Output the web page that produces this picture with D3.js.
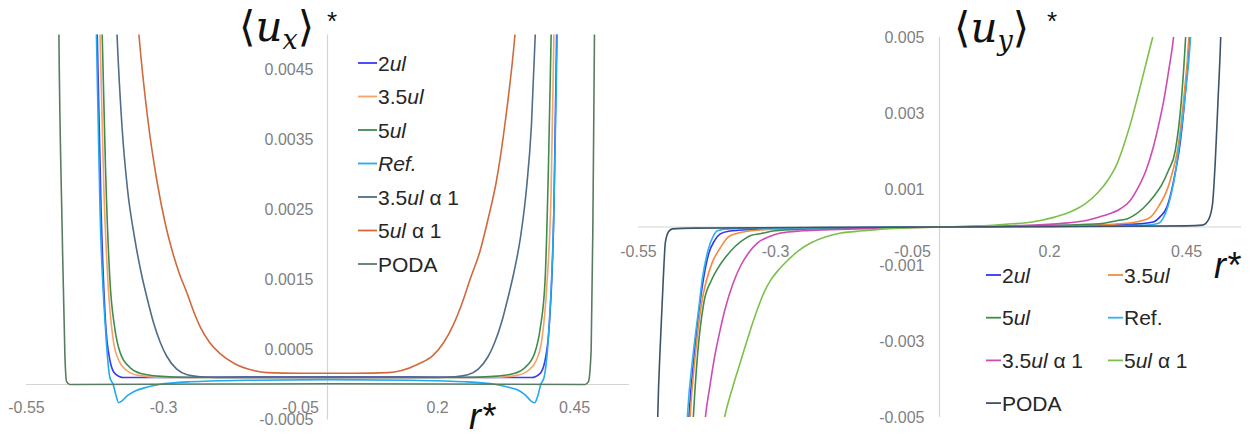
<!DOCTYPE html>
<html lang="en">
<head>
    <meta charset="UTF-8">
    <title>u_x and u_y profiles</title>
    <script src="https://d3js.org/d3.v7.min.js"></script>
    <style>
        body { margin: 0; background: #fff; }
        svg { display: block; }
        text { font-family: "Liberation Sans", Arial, sans-serif; }
    </style>
</head>
<body>
    <script>
        // tick values shared by both panels
        const rTicks = [-0.55, -0.3, -0.05, 0.2, 0.45];
        const uxTicks = [-0.0005, 0.0005, 0.0015, 0.0025, 0.0035, 0.0045];
        const uyTicks = [-0.005, -0.003, -0.001, 0.001, 0.003, 0.005];
        const seriesNames = ["2ul", "3.5ul", "5ul", "Ref.", "3.5ul α 1", "5ul α 1", "PODA"];

        // <u_x>* against r*
        const ux2ul = [[-0.425,0.0068],[-0.420,0.005],[-0.413,0.0025],[-0.405,0.0009],[-0.397,0.00035],[-0.388,0.00016],[-0.372,0.0001],[-0.30,0.0001],[-0.15,0.00011],[0,0.00011],[0.15,0.00011],[0.30,0.0001],[0.372,0.0001],[0.388,0.00016],[0.397,0.00035],[0.405,0.0009],[0.413,0.0025],[0.418,0.005],[0.423,0.0068]];
        const ux35ul = [[-0.42,0.0068],[-0.415,0.005],[-0.408,0.0028],[-0.400,0.0014],[-0.391,0.00064],[-0.380,0.00033],[-0.366,0.0002],[-0.345,0.00013],[-0.30,0.0001],[-0.15,0.0001],[0,0.0001],[0.15,0.0001],[0.30,0.0001],[0.345,0.00013],[0.366,0.0002],[0.380,0.00033],[0.391,0.00064],[0.400,0.0014],[0.408,0.0028],[0.413,0.005],[0.418,0.0068]];
        const ux5ul = [[-0.416,0.0068],[-0.411,0.005],[-0.405,0.0031],[-0.397,0.0015],[-0.388,0.0008],[-0.378,0.00045],[-0.36,0.00024],[-0.342,0.00016],[-0.31,0.00012],[-0.25,0.0001],[-0.15,0.0001],[0,0.0001],[0.15,0.0001],[0.25,0.0001],[0.31,0.00012],[0.342,0.00016],[0.36,0.00024],[0.378,0.00045],[0.388,0.0008],[0.397,0.0015],[0.403,0.0031],[0.408,0.005],[0.413,0.0068]];
        const uxRef = [[-0.426,0.0068],[-0.4215,0.005],[-0.415,0.0025],[-0.405,0.0008],[-0.397,0.0001],[-0.391,0],[-0.386,-0.00015],[-0.381,-0.00026],[-0.376,-0.00024],[-0.365,-0.00016],[-0.35,-0.00009],[-0.33,-0.00004],[-0.307,0],[-0.25,0.00004],[-0.15,0.00006],[0,0.00007],[0.15,0.00006],[0.25,0.00004],[0.307,0],[0.33,-0.00004],[0.35,-0.00009],[0.362,-0.00016],[0.372,-0.00024],[0.378,-0.00026],[0.384,-0.00015],[0.389,0],[0.395,0.0001],[0.404,0.0008],[0.413,0.0025],[0.419,0.005],[0.423,0.0068]];
        const ux35a1 = [[-0.39,0.0062],[-0.384,0.005],[-0.375,0.0037],[-0.365,0.0028],[-0.352,0.0021],[-0.34,0.0016],[-0.328,0.0012],[-0.318,0.0009],[-0.305,0.0006],[-0.293,0.0004],[-0.275,0.00022],[-0.256,0.00014],[-0.23,0.00011],[-0.2,0.0001],[0,0.0001],[0.2,0.0001],[0.23,0.00011],[0.256,0.00014],[0.275,0.00022],[0.293,0.0004],[0.305,0.0006],[0.318,0.0009],[0.328,0.0012],[0.34,0.0016],[0.352,0.0021],[0.363,0.0028],[0.372,0.0037],[0.379,0.005],[0.384,0.0062]];
        const ux5a1 = [[-0.35,0.0056],[-0.344,0.005],[-0.328,0.0038],[-0.311,0.0029],[-0.296,0.0023],[-0.283,0.0019],[-0.27,0.00158],[-0.256,0.0013],[-0.244,0.00104],[-0.232,0.00082],[-0.215,0.0006],[-0.196,0.00044],[-0.17,0.0003],[-0.135,0.0002],[-0.11,0.00017],[-0.05,0.00016],[0,0.00016],[0.05,0.00016],[0.11,0.00017],[0.135,0.0002],[0.165,0.00029],[0.193,0.00042],[0.212,0.0006],[0.23,0.00086],[0.245,0.00115],[0.26,0.0015],[0.278,0.0019],[0.294,0.0024],[0.308,0.0029],[0.325,0.0038],[0.342,0.005],[0.348,0.0056]];
        const uxPoda = [[-0.492,0.0068],[-0.49,0.005],[-0.484,0.0022],[-0.479,0.0004],[-0.476,0.00004],[-0.47,0],[0,0.00001],[0.47,0],[0.476,0.00004],[0.481,0.0005],[0.484,0.0022],[0.487,0.005],[0.489,0.0068]];

        // <u_y>* against r*
        const uy2ul = [[-0.462,-0.0065],[-0.457,-0.005],[-0.447,-0.0033],[-0.437,-0.002],[-0.431,-0.0014],[-0.421,-0.0007],[-0.41,-0.00035],[-0.40,-0.00018],[-0.385,-0.00011],[-0.35,-0.00007],[-0.25,-0.00004],[-0.1,-0.00001],[0,0],[0.1,0.00001],[0.25,0.00004],[0.30,0.00005],[0.37,0.00009],[0.39,0.00013],[0.403,0.00028],[0.415,0.00053],[0.424,0.001],[0.431,0.0015],[0.437,0.002],[0.447,0.0033],[0.456,0.005],[0.461,0.0065]];
        const uy35ul = [[-0.46,-0.0065],[-0.455,-0.005],[-0.445,-0.0033],[-0.434,-0.002],[-0.425,-0.0014],[-0.415,-0.00095],[-0.40,-0.00055],[-0.385,-0.00026],[-0.37,-0.00017],[-0.35,-0.00011],[-0.30,-0.00006],[-0.15,-0.00002],[0,0],[0.15,0.00002],[0.30,0.00006],[0.35,0.00011],[0.37,0.00017],[0.385,0.00026],[0.40,0.00055],[0.415,0.00097],[0.426,0.0015],[0.434,0.002],[0.445,0.0033],[0.455,0.005],[0.46,0.0065]];
        const uy5ul = [[-0.454,-0.0065],[-0.449,-0.005],[-0.441,-0.0033],[-0.43,-0.002],[-0.416,-0.0014],[-0.405,-0.0011],[-0.39,-0.00079],[-0.372,-0.0005],[-0.354,-0.0003],[-0.343,-0.00022],[-0.325,-0.00017],[-0.30,-0.0001],[-0.25,-0.00006],[-0.1,-0.00002],[0,0],[0.1,0.00002],[0.25,0.00006],[0.30,0.0001],[0.325,0.00017],[0.343,0.00022],[0.354,0.0003],[0.372,0.0005],[0.39,0.00079],[0.405,0.0011],[0.418,0.0015],[0.43,0.002],[0.441,0.0033],[0.449,0.005],[0.454,0.0065]];
        const uyRef = [[-0.465,-0.0065],[-0.46,-0.005],[-0.449,-0.0033],[-0.438,-0.002],[-0.433,-0.0014],[-0.422,-0.0006],[-0.412,-0.00022],[-0.405,-0.0001],[-0.385,-0.00005],[-0.30,-0.00003],[-0.1,-0.00001],[0,0],[0.1,0.00001],[0.30,0.00003],[0.38,0.00005],[0.40,0.0001],[0.409,0.00026],[0.418,0.0006],[0.427,0.00116],[0.436,0.002],[0.447,0.0033],[0.458,0.005],[0.463,0.0065]];
        const uy35a1 = [[-0.433,-0.006],[-0.427,-0.005],[-0.419,-0.0042],[-0.41,-0.0034],[-0.40,-0.0027],[-0.39,-0.0021],[-0.377,-0.0015],[-0.362,-0.001],[-0.348,-0.00068],[-0.332,-0.00042],[-0.31,-0.00025],[-0.29,-0.00016],[-0.25,-0.0001],[-0.2,-0.00007],[-0.1,-0.00003],[0,0],[0.1,0.00003],[0.15,0.00004],[0.22,0.00009],[0.27,0.00018],[0.30,0.0003],[0.33,0.00048],[0.348,0.0007],[0.362,0.00103],[0.377,0.0015],[0.39,0.0021],[0.40,0.0027],[0.41,0.0034],[0.419,0.0042],[0.427,0.005],[0.433,0.006]];
        const uy5a1 = [[-0.40,-0.0056],[-0.392,-0.005],[-0.377,-0.0042],[-0.362,-0.0035],[-0.347,-0.0028],[-0.333,-0.0022],[-0.32,-0.00172],[-0.308,-0.0014],[-0.293,-0.00112],[-0.277,-0.00088],[-0.257,-0.00062],[-0.235,-0.00042],[-0.21,-0.00027],[-0.18,-0.00016],[-0.14,-0.0001],[-0.1,-0.00005],[-0.05,-0.00002],[0,0],[0.08,0.00003],[0.12,0.00007],[0.172,0.00014],[0.21,0.00026],[0.239,0.0004],[0.265,0.0006],[0.29,0.00092],[0.308,0.00125],[0.322,0.0016],[0.335,0.0021],[0.348,0.0027],[0.361,0.0034],[0.375,0.0042],[0.389,0.005],[0.40,0.0056]];
        const uyPoda = [[-0.516,-0.0065],[-0.514,-0.005],[-0.509,-0.003],[-0.504,-0.0014],[-0.5,-0.0004],[-0.494,-0.00012],[-0.487,-0.00005],[-0.45,-0.00003],[-0.2,-0.00001],[0,0],[0.2,0.00001],[0.45,0.00003],[0.48,0.00005],[0.491,0.0002],[0.498,0.0006],[0.503,0.0017],[0.508,0.0033],[0.513,0.005],[0.515,0.006]];

        const width = 1254, height = 436;
        const svg = d3.select("body").append("svg")
            .attr("width", width)
            .attr("height", height);

        // plain hyphen for negative numbers, like the original figure
        const hyphen = f => d => f(d).replace("\u2212", "-");

        const panels = [
            {
                id: "ux",
                series: [ux2ul, ux35ul, ux5ul, uxRef, ux35a1, ux5a1, uxPoda],
                colors: ["#3c3cf0", "#f8a168", "#3f8c4c", "#22a9ee", "#4f6d88", "#d06a3c", "#587c62"],
                xRange: [26, 629],
                yDomain: [-0.0005, 0.005],
                yRange: [419.5, 34.5],
                yTicks: uxTicks,
                yFormat: hyphen(d3.format(".4f")),
                yPad: 14,
                xPad: 17,
                refItalic: true,
                legend: { x: [358], y0: 63, dy: 33.5, cols: 1, mark: 19, size: 21 },
                title: { x: 239, y: 41, sub: "x", starX: 327 },
                rLabel: { x: 469, y: 429 }
            },
            {
                id: "uy",
                series: [uy2ul, uy35ul, uy5ul, uyRef, uy35a1, uy5a1, uyPoda],
                colors: ["#3434ee", "#f58a3e", "#3f8c4c", "#2fb2f0", "#cc4cb4", "#7cc04c", "#3d5468"],
                xRange: [638, 1241],
                yDomain: [-0.005, 0.005],
                yRange: [417, 37],
                yTicks: uyTicks,
                yFormat: hyphen(d3.format(".3f")),
                yPad: 15,
                xPad: 19,
                refItalic: false,
                legend: { x: [986, 1108], y0: 275, dy: 42.7, cols: 2, mark: 15, size: 21 },
                title: { x: 954, y: 42, sub: "y", starX: 1047 },
                rLabel: { x: 1214, y: 278 }
            }
        ];

        // "ul" is set in italics like in the figure
        function writeName(textSel, name, italicAll) {
            name.split(/(ul)/).filter(s => s.length).forEach(part => {
                textSel.append("tspan")
                    .style("font-style", (part === "ul" || italicAll) ? "italic" : "normal")
                    .text(part);
            });
        }

        panels.forEach(p => {
            const x = d3.scaleLinear().domain([-0.55, 0.55]).range(p.xRange);
            const y = d3.scaleLinear().domain(p.yDomain).range(p.yRange);
            const g = svg.append("g");

            // axis lines
            g.append("line")
                .attr("x1", x(-0.55)).attr("x2", x(0.55))
                .attr("y1", y(0)).attr("y2", y(0))
                .attr("stroke", "#d4d4d4").attr("stroke-width", 1.2);
            g.append("line")
                .attr("x1", x(0)).attr("x2", x(0))
                .attr("y1", y(p.yDomain[1])).attr("y2", y(p.yDomain[0]))
                .attr("stroke", "#d4d4d4").attr("stroke-width", 1.2);

            // tick labels
            const xAxis = g.append("g")
                .attr("transform", `translate(0,${y(0)})`)
                .call(d3.axisBottom(x).tickValues(rTicks).tickSize(0).tickPadding(p.xPad).tickFormat(d => String(d)));
            const yAxis = g.append("g")
                .attr("transform", `translate(${x(0)},0)`)
                .call(d3.axisLeft(y).tickValues(p.yTicks).tickSize(0).tickPadding(p.yPad).tickFormat(p.yFormat));
            [xAxis, yAxis].forEach(a => {
                a.select(".domain").remove();
                a.selectAll("text")
                    .attr("fill", "#7f7f7f")
                    .style("font-size", "16px")
                    .style("font-family", "'Liberation Sans', Arial, sans-serif");
            });

            // curves
            g.append("clipPath").attr("id", "clip-" + p.id)
                .append("rect")
                .attr("x", x(-0.55)).attr("y", y(p.yDomain[1]))
                .attr("width", x(0.55) - x(-0.55))
                .attr("height", y(p.yDomain[0]) - y(p.yDomain[1]));

            const line = d3.line()
                .x(d => x(d[0]))
                .y(d => y(d[1]))
                .curve(d3.curveMonotoneX);

            g.append("g").attr("clip-path", `url(#clip-${p.id})`)
                .selectAll("path")
                .data(p.series)
                .join("path")
                .attr("d", line)
                .attr("fill", "none")
                .attr("stroke", (d, i) => p.colors[i])
                .attr("stroke-width", 1.6);

            // legend
            const L = p.legend;
            const items = g.append("g").selectAll("g")
                .data(seriesNames)
                .join("g")
                .attr("transform", (d, i) => `translate(${L.x[i % L.cols]},${L.y0 + Math.floor(i / L.cols) * L.dy})`);
            items.append("line")
                .attr("x1", 0).attr("x2", L.mark)
                .attr("stroke", (d, i) => p.colors[i])
                .attr("stroke-width", 1.8);
            items.append("text")
                .attr("x", L.mark + 1)
                .attr("dy", "0.36em")
                .attr("fill", "#262626")
                .style("font-size", L.size + "px")
                .each(function(d) {
                    writeName(d3.select(this), d, p.refItalic && d === "Ref.");
                });

            // panel title  <u_x>*  /  <u_y>*
            const t = g.append("text")
                .attr("x", p.title.x).attr("y", p.title.y)
                .attr("fill", "#111")
                .style("font-family", "'DejaVu Serif', serif")
                .style("font-size", "42px");
            t.append("tspan").text("\u27E8");
            t.append("tspan").style("font-style", "italic").text("u");
            t.append("tspan").style("font-style", "italic").style("font-size", "27px").attr("dy", 8).text(p.title.sub);
            t.append("tspan").attr("dy", -8).text("\u27E9");
            g.append("text")
                .attr("x", p.title.starX).attr("y", 30)
                .attr("fill", "#111")
                .style("font-size", "26px")
                .text("*");

            // r* label
            g.append("text")
                .attr("x", p.rLabel.x).attr("y", p.rLabel.y)
                .attr("fill", "#111")
                .style("font-size", "36px")
                .style("font-style", "italic")
                .text("r*");
        });
    </script>
</body>
</html>
